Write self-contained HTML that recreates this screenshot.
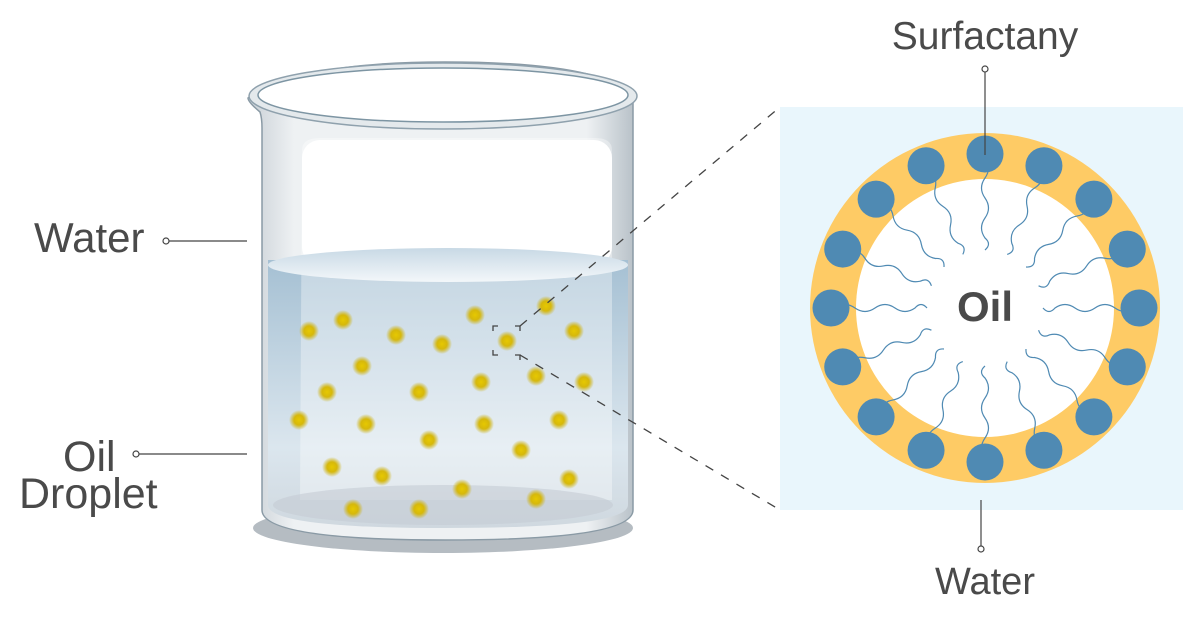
<!DOCTYPE html>
<html><head><style>
html,body{margin:0;padding:0;background:#fff;}
svg{display:block;font-family:"Liberation Sans",sans-serif;}
</style></head><body>
<svg width="1200" height="620" viewBox="0 0 1200 620" xmlns="http://www.w3.org/2000/svg">
<defs>
<linearGradient id="water" x1="0" y1="0" x2="0" y2="1">
<stop offset="0" stop-color="#a5c0d3"/><stop offset="0.7" stop-color="#dbe6ee"/><stop offset="1" stop-color="#cfd8df"/>
</linearGradient>
<linearGradient id="glass" x1="0" y1="0" x2="1" y2="0">
<stop offset="0" stop-color="#c9d0d6"/><stop offset="0.12" stop-color="#eef1f3"/><stop offset="0.88" stop-color="#eef1f3"/><stop offset="1" stop-color="#b9c2c9"/>
</linearGradient>
<radialGradient id="dot"><stop offset="0" stop-color="#e6c800"/><stop offset="0.5" stop-color="#d6b80c"/><stop offset="1" stop-color="#c8ae10" stop-opacity="0"/></radialGradient>
<linearGradient id="surf" x1="0" y1="0" x2="0" y2="1"><stop offset="0" stop-color="#c8d9e5"/><stop offset="1" stop-color="#f3f7fa"/></linearGradient>
</defs>

<!-- beaker -->
<ellipse cx="443" cy="528" rx="190" ry="25" fill="#b5bcc2"/>
<path d="M260,112 Q248,102 248,98 Q300,62 445,62 Q600,62 633,95 L633,510 Q633,540 445,540 Q262,540 262,510 L262,128 Q262,118 260,112 Z" fill="url(#glass)" stroke="#8a9aa5" stroke-width="1.5"/>
<path d="M268,260 L628,260 L628,505 Q628,528 445,528 Q268,528 268,505 Z" fill="url(#water)"/>
<path d="M302,150 Q302,138 320,138 L595,138 Q612,138 612,150 L612,500 L300,500 Z" fill="#fff" opacity="0.35"/>
<rect x="302" y="140" width="310" height="125" rx="18" fill="#fff"/>
<ellipse cx="448" cy="265" rx="180" ry="17" fill="url(#surf)"/>
<ellipse cx="443" cy="505" rx="170" ry="20" fill="#c4ccd3" opacity="0.6"/>
<ellipse cx="443" cy="96" rx="194" ry="33" fill="#e4e9ec" stroke="#8fa1ad" stroke-width="1.5"/>
<ellipse cx="443" cy="95" rx="185" ry="27" fill="#fff" stroke="#7d95a3" stroke-width="1.5"/>

<g fill="url(#dot)">
<circle cx="309" cy="331" r="10"/><circle cx="343" cy="320" r="10"/><circle cx="396" cy="335" r="10"/><circle cx="442" cy="344" r="10"/><circle cx="475" cy="315" r="10"/><circle cx="546" cy="306" r="10"/><circle cx="574" cy="331" r="10"/><circle cx="507" cy="341" r="10"/><circle cx="362" cy="366" r="10"/><circle cx="327" cy="392" r="10"/><circle cx="419" cy="392" r="10"/><circle cx="481" cy="382" r="10"/><circle cx="536" cy="376" r="10"/><circle cx="584" cy="382" r="10"/><circle cx="299" cy="420" r="10"/><circle cx="366" cy="424" r="10"/><circle cx="429" cy="440" r="10"/><circle cx="484" cy="424" r="10"/><circle cx="559" cy="420" r="10"/><circle cx="521" cy="450" r="10"/><circle cx="332" cy="467" r="10"/><circle cx="382" cy="476" r="10"/><circle cx="462" cy="489" r="10"/><circle cx="569" cy="479" r="10"/><circle cx="536" cy="499" r="10"/><circle cx="353" cy="509" r="10"/><circle cx="419" cy="509" r="10"/>
</g>

<!-- zoom box -->
<g stroke="#444" stroke-width="1.3" fill="none">
<path d="M493,331 v-5 h5 M515,326 h5 v5 M493,350 v5 h5 M515,355 h5 v5"/>
<line x1="520" y1="326" x2="780" y2="107" stroke-dasharray="9,9"/>
<line x1="520" y1="355" x2="780" y2="510" stroke-dasharray="9,9"/>
</g>

<!-- left labels -->
<text x="34" y="252" font-size="42" fill="#4a4a4a">Water</text>
<line x1="166" y1="241" x2="247" y2="241" stroke="#444" stroke-width="1.2"/>
<circle cx="166" cy="241" r="3" fill="#fff" stroke="#444" stroke-width="1.2"/>
<text x="63" y="471" font-size="43" fill="#4a4a4a">Oil</text>
<text x="19" y="508" font-size="43" fill="#4a4a4a">Droplet</text>
<line x1="136" y1="454" x2="247" y2="454" stroke="#444" stroke-width="1.2"/>
<circle cx="136" cy="454" r="3" fill="#fff" stroke="#444" stroke-width="1.2"/>

<!-- micelle -->
<rect x="780" y="107" width="403" height="403" fill="#e9f6fc"/>
<circle cx="985" cy="308" r="175" fill="#fecb65"/>
<circle cx="985" cy="308" r="129" fill="#fff"/>
<g transform="translate(985,308)" fill="#4f8ab3">
<g stroke="#4f8ab3" stroke-width="1.2" fill="none">
<path id="t" d="M0,-150 q7,10 0,20 q-7,10 0,20 q7,10 0,20 q-7,10 0,20 q7,6 0,12"/>
<use href="#t" transform="rotate(22.5)"/><use href="#t" transform="rotate(45)"/><use href="#t" transform="rotate(67.5)"/><use href="#t" transform="rotate(90)"/><use href="#t" transform="rotate(112.5)"/><use href="#t" transform="rotate(135)"/><use href="#t" transform="rotate(157.5)"/><use href="#t" transform="rotate(180)"/><use href="#t" transform="rotate(202.5)"/><use href="#t" transform="rotate(225)"/><use href="#t" transform="rotate(247.5)"/><use href="#t" transform="rotate(270)"/><use href="#t" transform="rotate(292.5)"/><use href="#t" transform="rotate(315)"/><use href="#t" transform="rotate(337.5)"/>
</g>
<circle id="h" cx="0" cy="-154" r="18.5"/>
<use href="#h" transform="rotate(22.5)"/><use href="#h" transform="rotate(45)"/><use href="#h" transform="rotate(67.5)"/><use href="#h" transform="rotate(90)"/><use href="#h" transform="rotate(112.5)"/><use href="#h" transform="rotate(135)"/><use href="#h" transform="rotate(157.5)"/><use href="#h" transform="rotate(180)"/><use href="#h" transform="rotate(202.5)"/><use href="#h" transform="rotate(225)"/><use href="#h" transform="rotate(247.5)"/><use href="#h" transform="rotate(270)"/><use href="#h" transform="rotate(292.5)"/><use href="#h" transform="rotate(315)"/><use href="#h" transform="rotate(337.5)"/>
</g>
<text x="985" y="321" font-size="42" font-weight="bold" fill="#4a4a4a" text-anchor="middle">Oil</text>

<text x="985" y="49" font-size="39" fill="#4a4a4a" text-anchor="middle">Surfactany</text>
<line x1="985" y1="69" x2="985" y2="155" stroke="#444" stroke-width="1.2"/>
<circle cx="985" cy="69" r="3" fill="#fff" stroke="#444" stroke-width="1.2"/>
<text x="985" y="594" font-size="38" fill="#4a4a4a" text-anchor="middle">Water</text>
<line x1="981" y1="500" x2="981" y2="549" stroke="#444" stroke-width="1.2"/>
<circle cx="981" cy="549" r="3" fill="#fff" stroke="#444" stroke-width="1.2"/>
</svg>
</body></html>
